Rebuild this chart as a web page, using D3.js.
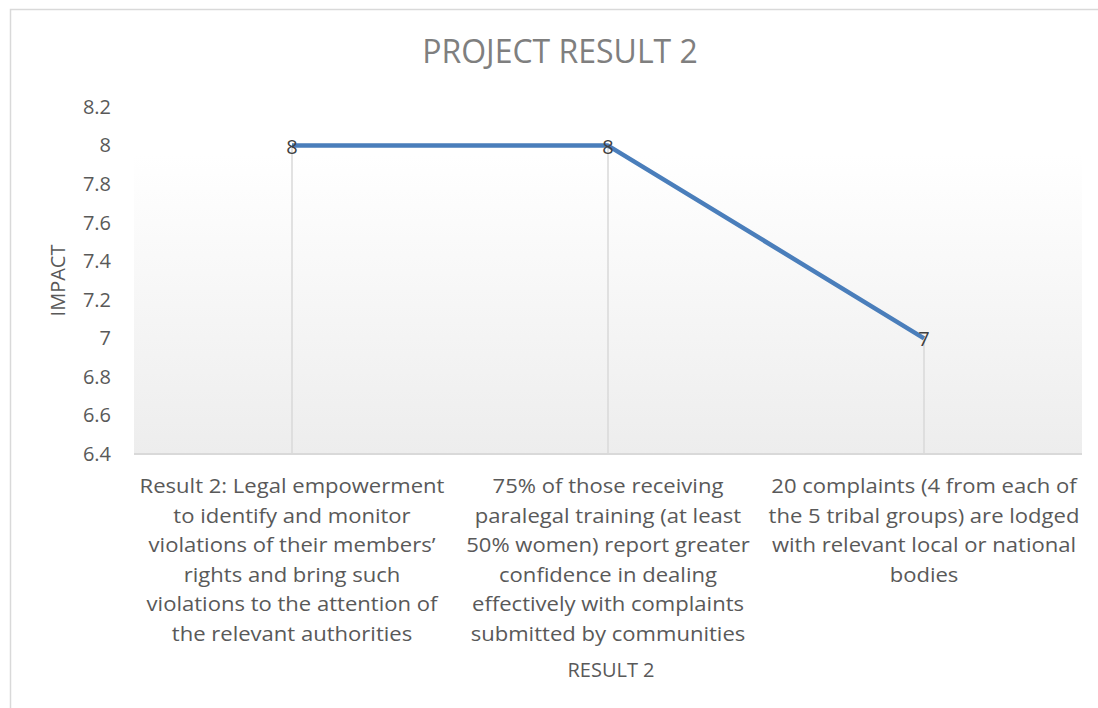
<!DOCTYPE html>
<html>
<head>
<meta charset="utf-8">
<script src="https://cdn.jsdelivr.net/npm/d3@7"></script>
<style>
  body { margin: 0; background: #fff; }
  svg text { font-family: "Open Sans", sans-serif; }
</style>
</head>
<body>
<div id="chart"></div>
<script>
// DATA
const categories = [
  ["Result 2: Legal empowerment", "to identify and monitor", "violations of their members’", "rights and bring such", "violations to the attention of", "the relevant authorities"],
  ["75% of those receiving", "paralegal training (at least", "50% women) report greater", "confidence in dealing", "effectively with complaints", "submitted by communities"],
  ["20 complaints (4 from each of", "the 5 tribal groups) are lodged", "with relevant local or national", "bodies"]
];
const impact = [8, 8, 7];
const yTicks = [6.4, 6.6, 6.8, 7, 7.2, 7.4, 7.6, 7.8, 8, 8.2];
const chartTitle = "PROJECT RESULT 2";
const xTitle = "RESULT 2";
const yTitle = "IMPACT";

const width = 1098;
const height = 708;
const margin = { top: 107, right: 16, bottom: 254, left: 134 };

const svg = d3.select("#chart")
  .append("svg")
  .attr("width", width)
  .attr("height", height);

// chart frame (cropped on the right and bottom)
svg.append("rect")
  .attr("x", 10.5)
  .attr("y", 9.5)
  .attr("width", 1200)
  .attr("height", 900)
  .attr("fill", "#fff")
  .attr("stroke", "#d9d9d9")
  .attr("stroke-width", 1.5);

const x = d3.scaleBand()
  .domain(d3.range(categories.length))
  .range([margin.left, width - margin.right]);

const y = d3.scaleLinear()
  .domain([6.4, 8.2])
  .range([height - margin.bottom, margin.top]);

// plot background gradient
const defs = svg.append("defs");
const grad = defs.append("linearGradient")
  .attr("id", "plot-bg")
  .attr("x1", "0%").attr("y1", "0%")
  .attr("x2", "0%").attr("y2", "100%");
grad.append("stop").attr("offset", "0%").attr("stop-color", "#ffffff");
grad.append("stop").attr("offset", "14%").attr("stop-color", "#ffffff");
grad.append("stop").attr("offset", "100%").attr("stop-color", "#ededed");

svg.append("rect")
  .attr("x", margin.left)
  .attr("y", y(8.2))
  .attr("width", x.range()[1] - x.range()[0])
  .attr("height", y(6.4) - y(8.2))
  .attr("fill", "url(#plot-bg)");

// TITLE
svg.append("text")
  .attr("x", 560)
  .attr("y", 63)
  .attr("text-anchor", "middle")
  .style("font-size", "32px")
  .style("fill", "#7f7f7f")
  .text(chartTitle);

// Y AXIS
const yAxis = svg.append("g")
  .attr("transform", `translate(${margin.left},0)`)
  .call(d3.axisLeft(y).tickValues(yTicks).tickSize(0).tickPadding(23)
    .tickFormat(d => String(+d.toFixed(1))));
yAxis.select(".domain").remove();
yAxis.selectAll("text")
  .style("font-size", "20px")
  .style("font-family", "'Open Sans', sans-serif")
  .style("fill", "#595959");

svg.append("text")
  .attr("transform", `translate(65, ${(y(6.4) + y(8.2)) / 2}) rotate(-90)`)
  .attr("text-anchor", "middle")
  .style("font-size", "20px")
  .style("fill", "#595959")
  .text(yTitle);

// X AXIS line
svg.append("line")
  .attr("x1", x.range()[0])
  .attr("x2", x.range()[1])
  .attr("y1", y(6.4))
  .attr("y2", y(6.4))
  .attr("stroke", "#d9d9d9")
  .attr("stroke-width", 2);

// drop lines
svg.selectAll(".drop")
  .data(impact)
  .enter()
  .append("line")
  .attr("class", "drop")
  .attr("x1", (d, i) => x(i) + x.bandwidth() / 2)
  .attr("x2", (d, i) => x(i) + x.bandwidth() / 2)
  .attr("y1", d => y(d))
  .attr("y2", y(6.4))
  .attr("stroke", "#d9d9d9")
  .attr("stroke-width", 1.5);

// category labels
const catG = svg.append("g");
categories.forEach((lines, i) => {
  const cx = x(i) + x.bandwidth() / 2;
  lines.forEach((ln, j) => {
    catG.append("text")
      .attr("class", "cat")
      .attr("transform", `translate(${cx}, ${493 + j * 29.6})`)
      .attr("text-anchor", "middle")
      .style("font-size", "20.5px")
      .style("fill", "#595959")
      .text(ln);
  });
});
// fit the category text to the reference width
const probe = catG.select("text").node().getComputedTextLength();
const sx = 305 / probe;
catG.selectAll("text").each(function() {
  const t = d3.select(this);
  t.attr("transform", t.attr("transform") + ` scale(${sx},1)`);
});

svg.append("text")
  .attr("x", x(1) + x.bandwidth() / 2 + 3)
  .attr("y", 677)
  .attr("text-anchor", "middle")
  .style("font-size", "20px")
  .style("fill", "#595959")
  .text(xTitle);

// LINE
const line = d3.line()
  .x((d, i) => x(i) + x.bandwidth() / 2)
  .y(d => y(d));

svg.append("path")
  .datum(impact)
  .attr("d", line)
  .attr("fill", "none")
  .attr("stroke", "#4a7ebb")
  .attr("stroke-width", 4.5)
  .attr("stroke-linejoin", "round");

// data labels
svg.selectAll(".dlabel")
  .data(impact)
  .enter()
  .append("text")
  .attr("class", "dlabel")
  .attr("x", (d, i) => x(i) + x.bandwidth() / 2)
  .attr("y", d => y(d) + 8)
  .attr("text-anchor", "middle")
  .style("font-size", "20px")
  .style("fill", "#404040")
  .text(d => d);
</script>
</body>
</html>
